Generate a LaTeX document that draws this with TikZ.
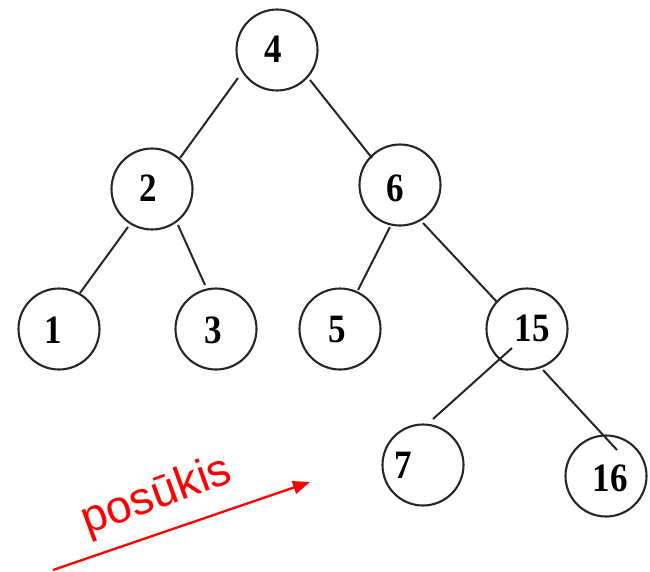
\documentclass[tikz,border=0pt]{standalone}
\usepackage{fontspec}
\setmainfont{Liberation Serif}
\newfontfamily\arialfont{Liberation Sans}
\usetikzlibrary{arrows.meta,calc}
\tikzset{
  cnode/.style={circle,draw=black!85,line width=2.1pt,minimum size=81pt,inner sep=0pt},
  num/.style={font=\fontsize{35}{35}\selectfont\bfseries},
  edge/.style={draw=black!85,line width=2pt},
  redarrow/.style={draw=red,line width=2.3pt,-{Triangle[length=17pt,width=13pt]}}
}
\newcommand{\numtxt}[1]{\scalebox{1}[1.15]{#1}}
\begin{document}
\begin{tikzpicture}[x=1pt,y=1pt]
\useasboundingbox (0,0) rectangle (650,-572);
% nodes
\node[cnode] (n4)  at (277,-50)  {};
\node[cnode] (n2)  at (152,-189) {};
\node[cnode] (n6)  at (400,-185) {};
\node[cnode] (n1)  at (59,-329)  {};
\node[cnode] (n3)  at (216,-329) {};
\node[cnode] (n5)  at (340,-329) {};
\node[cnode] (n15) at (527,-329) {};
\node[cnode] (n7)  at (423,-465) {};
\node[cnode] (n16) at (606,-476) {};
% labels
\node[num] (t4)  at (273,-49)  {\numtxt{4}};
\node[num] (t2)  at (148,-188) {\numtxt{2}};
\node[num] (t6)  at (395,-188) {\numtxt{6}};
\node[num] (t1)  at (53,-330)  {\numtxt{1}};
\node[num] (t3)  at (213,-330) {\numtxt{3}};
\node[num] (t5)  at (337,-330) {\numtxt{5}};
\node[num] (t15) at (532,-328) {\numtxt{15}};
\node[num] (t7)  at (403,-465) {\numtxt{7}};
\node[num] (t16) at (610,-478) {\numtxt{16}};
% edge end points
\coordinate (a4l)  at ($(n4)+(-39,-28)$);
\coordinate (a4r)  at ($(n4)+(33,-30)$);
\coordinate (a2t)  at ($(n2)+(28,31)$);
\coordinate (a2l)  at ($(n2)+(-24,-38)$);
\coordinate (a2r)  at ($(n2)+(26,-36)$);
\coordinate (a6t)  at ($(n6)+(-28,27)$);
\coordinate (a6l)  at ($(n6)+(-10,-42)$);
\coordinate (a6r)  at ($(n6)+(23,-38)$);
\coordinate (a1t)  at ($(n1)+(21,36)$);
\coordinate (a3t)  at ($(n3)+(-11,44)$);
\coordinate (a5t)  at ($(n5)+(18,39)$);
\coordinate (a15t) at ($(n15)+(-30,27)$);
\coordinate (a15l) at ($(n15)+(-15,-19)$);
\coordinate (a15r) at ($(n15)+(16,-41)$);
\coordinate (a7t)  at ($(n7)+(10,46)$);
\coordinate (a16t) at ($(n16)+(11,26)$);
% edges
\draw[edge] (a4l) -- (a2t);
\draw[edge] (a4r) -- (a6t);
\draw[edge] (a2l) -- (a1t);
\draw[edge] (a2r) -- (a3t);
\draw[edge] (a6l) -- (a5t);
\draw[edge] (a6r) -- (a15t);
\draw[edge] (a15l) -- (a7t);
\draw[edge] (a15r) -- (a16t);
% red arrow
\coordinate (rs) at (53,-570);
\coordinate (re) at (310,-482);
\draw[redarrow] (rs) -- (re);
\node[text=red,font=\arialfont\fontsize{46}{46}\selectfont,rotate=20,inner sep=0pt] (lbl) at (157,-497) {posūkis};
\end{tikzpicture}
\end{document}
